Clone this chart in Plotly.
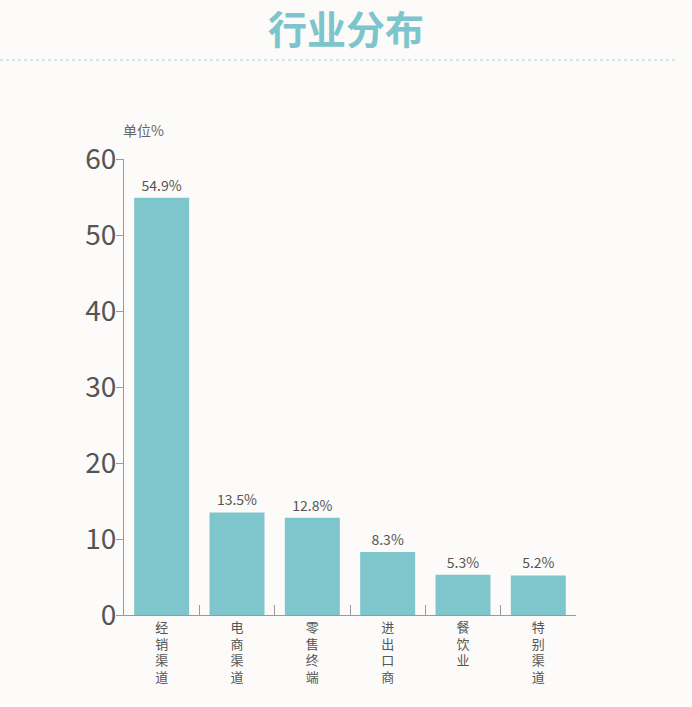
import plotly.graph_objects as go

# 行业分布 data
categories = ["经销渠道", "电商渠道", "零售终端", "进出口商", "餐饮业", "特别渠道"]
shares = [54.9, 13.5, 12.8, 8.3, 5.3, 5.2]
y_ticks = [0, 10, 20, 30, 40, 50, 60]

bar_color = "#7ec6cc"
teal = "#7cc5cc"
text_grey = "#555555"
axis_grey = "#9a9a9a"
bg = "#fcfbf9"
cjk = "Noto Sans CJK SC"

# stack chinese characters vertically under each bar
tick_text = ["<br>".join(list(c)) for c in categories]

fig = go.Figure(go.Bar(
    x=categories,
    y=shares,
    marker=dict(color=bar_color, line=dict(width=0)),
    texttemplate="%{y:.1f}%",
    textposition="outside",
    textfont=dict(size=14, color=text_grey, family=cjk),
    cliponaxis=False,
    hoverinfo="skip",
))

fig.update_layout(
    width=692, height=707,
    margin=dict(l=124, r=116, t=159, b=92),
    paper_bgcolor=bg,
    plot_bgcolor=bg,
    font=dict(family=cjk, color=text_grey),
    bargap=0.27,
    showlegend=False,
    title=dict(
        text="<b>行业分布</b>",
        font=dict(size=39, color=teal, family=cjk),
        x=0.5, xanchor="center",
        y=1 - 30 / 707, yanchor="middle", yref="container",
    ),
)

fig.update_xaxes(
    tickmode="array", tickvals=categories, ticktext=tick_text,
    tickfont=dict(size=13, color=text_grey, family=cjk),
    showline=True, linecolor=axis_grey, linewidth=1,
    ticks="inside", tickson="boundaries", ticklen=10, tickcolor=axis_grey,
    showgrid=False, zeroline=False,
)

fig.update_yaxes(
    range=[0, 60], tickvals=y_ticks,
    tickfont=dict(size=28, color=text_grey, family=cjk),
    showline=True, linecolor=axis_grey, linewidth=1,
    ticks="outside", ticklen=7, tickcolor=axis_grey,
    ticklabelstandoff=-6,
    showgrid=False, zeroline=False,
)

# dotted divider under the title
fig.add_shape(
    type="line", xref="paper", yref="paper",
    x0=-124 / 452, x1=(676 - 124) / 452,
    y0=(615 - 60) / 456, y1=(615 - 60) / 456,
    line=dict(color="#a6d6da", width=1, dash="dot"),
)

# unit label above the y axis
fig.add_annotation(
    text="单位%", xref="paper", yref="paper",
    x=(143 - 124) / 452, y=(615 - 130) / 456,
    xanchor="center", yanchor="middle", showarrow=False,
    font=dict(size=14, color="#666666", family=cjk),
)

# drop the page margin so the figure sits flush in the window
fig.write_html(
    "out.html",
    config={"displayModeBar": False},
    post_script="document.body.style.margin='0';"
                "document.body.style.background='" + bg + "';",
)
